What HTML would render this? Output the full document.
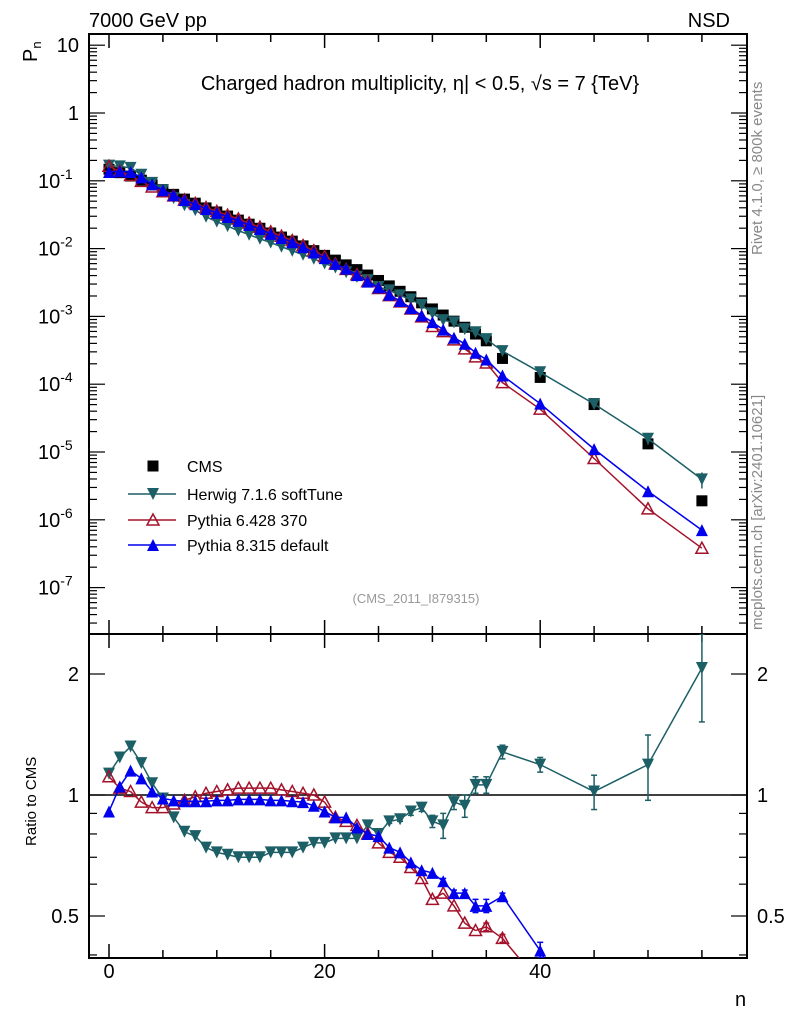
<!DOCTYPE html>
<html><head><meta charset="utf-8"><style>
html,body{margin:0;padding:0;background:#fff;width:786px;height:1024px;overflow:hidden;}
svg{display:block;font-family:"Liberation Sans",sans-serif;}
</style></head><body>
<svg id="c" width="786" height="1024" viewBox="0 0 786 1024" xmlns="http://www.w3.org/2000/svg">
<text x="89" y="27" font-size="20">7000 GeV pp</text>
<text x="730" y="27" font-size="20" text-anchor="end">NSD</text>
<text x="420" y="90" font-size="20" text-anchor="middle">Charged hadron multiplicity, η| &lt; 0.5, √s = 7 {TeV}</text>
<text x="416" y="603" font-size="13" fill="#999" text-anchor="middle">(CMS_2011_I879315)</text>
<text transform="translate(762,255) rotate(-90)" font-size="15" fill="#888">Rivet 4.1.0, ≥ 800k events</text>
<text transform="translate(762,630) rotate(-90)" font-size="15" fill="#888">mcplots.cern.ch [arXiv:2401.10621]</text>
<text transform="translate(37,62) rotate(-90)" font-size="20">P<tspan font-size="13" dy="4">n</tspan></text>
<text transform="translate(36,846) rotate(-90)" font-size="15">Ratio to CMS</text>
<text x="735" y="1006" font-size="20">n</text>
<g id="g"></g>
</svg>
<script>
const nVals=[0,1,2,3,4,5,6,7,8,9,10,11,12,13,14,15,16,17,18,19,20,21,22,23,24,25,26,27,28,29,30,31,32,33,34,35,36.5,40,45,50,55];
const cmsLog=[-0.83,-0.88,-0.93,-0.99,-1.06,-1.13,-1.2,-1.27,-1.33,-1.4,-1.46,-1.52,-1.58,-1.64,-1.7,-1.77,-1.83,-1.89,-1.96,-2.03,-2.1,-2.17,-2.24,-2.31,-2.39,-2.47,-2.55,-2.63,-2.71,-2.8,-2.89,-2.98,-3.07,-3.16,-3.26,-3.36,-3.62,-3.9,-4.3,-4.88,-5.72];
const herwigRatio=[1.13,1.24,1.32,1.2,1.07,0.98,0.88,0.81,0.79,0.74,0.72,0.71,0.7,0.7,0.7,0.72,0.72,0.72,0.74,0.76,0.76,0.78,0.78,0.78,0.84,0.8,0.86,0.87,0.91,0.93,0.86,0.84,0.96,0.94,1.06,1.06,1.28,1.19,1.02,1.19,2.07];
const herwigErr=[0,0,0,0,0,0,0,0,0,0,0,0,0,0,0,0,0,0,0,0,0,0,0,0,0,0.01,0.01,0.01,0.02,0.02,0.03,0.06,0.04,0.06,0.05,0.05,0.05,0.05,0.1,0.22,0.55];
const py6Ratio=[1.11,1.04,1.02,0.96,0.93,0.93,0.95,0.97,0.99,1.01,1.02,1.03,1.04,1.04,1.04,1.04,1.03,1.02,1.01,1.0,0.96,0.88,0.86,0.84,0.8,0.76,0.72,0.7,0.66,0.62,0.55,0.57,0.53,0.48,0.46,0.47,0.44,0.34,0.16,0.11,0.2];
const py6Err=[0,0,0,0,0,0,0,0,0,0,0,0,0,0,0,0,0,0,0,0,0,0,0,0,0,0,0,0,0,0,0,0,0,0,0,0.01,0.01,0,0,0,0];
const py8Ratio=[0.91,1.05,1.15,1.1,1.02,0.98,0.97,0.965,0.965,0.965,0.97,0.97,0.975,0.975,0.975,0.97,0.97,0.965,0.96,0.94,0.91,0.88,0.88,0.83,0.8,0.79,0.74,0.72,0.68,0.65,0.64,0.61,0.57,0.57,0.53,0.53,0.56,0.41,0.22,0.2,0.37];
const py8Err=[0,0,0,0,0,0,0,0,0,0,0,0,0,0,0,0,0,0,0,0,0,0,0,0,0,0,0,0,0,0,0,0.01,0.01,0.01,0.02,0.02,0.01,0.02,0,0,0];
const xTicks=[0,20,40];
const mainTickExp=[1,0,-1,-2,-3,-4,-5,-6,-7];
const ratioTicks=[2,1,0.5];

const NS="http://www.w3.org/2000/svg";
const g=document.getElementById('g');
const L=89,R=747,T=34,M=634,B=958;
const X=n=>109+(n)*10.78;
const YL=lg=>113-lg*67.8;
const YR=r=>795-Math.log2(r)*121;
function el(tag,attrs,parent){const e=document.createElementNS(NS,tag);for(const k in attrs)e.setAttribute(k,attrs[k]);(parent||g).appendChild(e);return e;}

const f1=el('rect',{x:L,y:T,width:R-L,height:M-T,fill:'none',stroke:'#000','stroke-width':2});


const f2=el('rect',{x:L,y:M,width:R-L,height:B-M,fill:'none',stroke:'#000','stroke-width':2});



for(let n=0;n<=55;n+=5){
  const x=X(n), len=(n%20===0)?14:8;
  [[B,-1],[M,1],[M,-1],[T,1]].forEach(([y,d])=>{
    el('line',{x1:x,x2:x,y1:y,y2:y+d*len,stroke:'#000','stroke-width':1.5});
  });
}
xTicks.forEach(v=>{
  const t=el('text',{x:X(v),y:978,'font-size':20,'text-anchor':'middle'});
  t.textContent=v;
  
  
});
for(let e=-8;e<=1;e++){
  for(let m=1;m<10;m++){
    const lg=e+Math.log10(m); const y=YL(lg);
    if(y<T||y>M)continue;
    const len=m===1?16:8;
    el('line',{x1:L,x2:L+len,y1:y,y2:y,stroke:'#000','stroke-width':1.2});
    el('line',{x1:R,x2:R-len,y1:y,y2:y,stroke:'#000','stroke-width':1.2});
  }
}
mainTickExp.forEach(e=>{
  const t=el('text',{x:79,y:YL(e)+7,'font-size':20,'text-anchor':'end'});
  if(e===1)t.textContent='10';else if(e===0)t.textContent='1';
  else{t.textContent='10';const s=el('tspan',{dy:-9,'font-size':14},t);s.textContent=String(e);t.setAttribute('text-anchor','start');t.setAttribute('x',38);}
  
  
});
[0.4,0.5,0.6,0.7,0.8,0.9,1,2].forEach(r=>{
  const y=YR(r), len=(r===1||r===2||r===0.5)?16:8;
  el('line',{x1:L,x2:L+len,y1:y,y2:y,stroke:'#000','stroke-width':1.2});
  el('line',{x1:R,x2:R-len,y1:y,y2:y,stroke:'#000','stroke-width':1.2});
});
ratioTicks.forEach(r=>{
  const t=el('text',{x:79,y:YR(r)+7,'font-size':20,'text-anchor':'end'});t.textContent=r;
  
  
  const t2=el('text',{x:757,y:YR(r)+7,'font-size':20});t2.textContent=r;
  
  
});
const ref=el('line',{x1:L,x2:R,y1:YR(1),y2:YR(1),stroke:'#000','stroke-width':1.5});



const defs=el('defs',{});
const c1=el('clipPath',{id:'cm'},defs);el('rect',{x:L,y:T,width:R-L,height:M-T},c1);
const c2=el('clipPath',{id:'cr'},defs);el('rect',{x:L,y:M,width:R-L,height:B-M},c2);

function marker(parent,type,x,y,col){
  const s=6;
  if(type==='sq')return el('rect',{x:x-5.5,y:y-5.5,width:11,height:11,fill:'#000'},parent);
  if(type==='down')return el('polygon',{points:`${x-s},${y-s} ${x+s},${y-s} ${x},${y+s}`,fill:col},parent);
  if(type==='up')return el('polygon',{points:`${x-s},${y+s} ${x+s},${y+s} ${x},${y-s}`,fill:col},parent);
  if(type==='upo')return el('polygon',{points:`${x-s},${y+s-1} ${x+s},${y+s-1} ${x},${y-s}`,fill:'none',stroke:col,'stroke-width':1.5},parent);
}
// clip polyline points to y range [ymin,ymax] -> list of segments
function clipPts(pts,ymin,ymax){
  const segs=[];
  for(let i=0;i<pts.length-1;i++){
    let [x1,y1]=pts[i],[x2,y2]=pts[i+1];
    let t0=0,t1=1;const dy=y2-y1;
    if(dy!==0){
      const ta=(ymin-y1)/dy,tb=(ymax-y1)/dy;
      t0=Math.max(t0,Math.min(ta,tb));t1=Math.min(t1,Math.max(ta,tb));
    }else if(y1<ymin||y1>ymax)continue;
    if(t0>=t1)continue;
    segs.push([x1+(x2-x1)*t0,y1+dy*t0,x1+(x2-x1)*t1,y1+dy*t1]);
  }
  return segs;
}
const series=[
  {name:'herwig',ratio:herwigRatio,err:herwigErr,col:'#1d5f66',m:'down'},
  {name:'pythia6',ratio:py6Ratio,err:py6Err,col:'#a3122a',m:'upo'},
  {name:'pythia8',ratio:py8Ratio,err:py8Err,col:'#0000ee',m:'up'}
];
const gm=el('g',{'clip-path':'url(#cm)'});
const gr=el('g',{'clip-path':'url(#cr)'});
nVals.forEach((n,i)=>{
  const m=marker(gm,'sq',X(n),YL(cmsLog[i]));
  
  
});
series.forEach(s=>{
  const pm=nVals.map((n,i)=>[X(n),YL(cmsLog[i]+Math.log10(s.ratio[i]))]);
  const pr=nVals.map((n,i)=>[X(n),YR(s.ratio[i])]);
  const l1=el('polyline',{points:pm.map(p=>p.join(',')).join(' '),fill:'none',stroke:s.col,'stroke-width':1.5},gm);
  
  
  const d=clipPts(pr,M-2,B+2).map(q=>`M${q[0]},${q[1]}L${q[2]},${q[3]}`).join('');
  const l2=el('path',{d:d,fill:'none',stroke:s.col,'stroke-width':1.5},gr);
  
  
  nVals.forEach((n,i)=>{
    const e=s.err[i];
    const r=s.ratio[i];
    const inR=pr[i][1]<B+8&&pr[i][1]>M-8;
    if(e>0&&inR){
      const y1=Math.max(YR(r+e),M),y2=Math.min(YR(Math.max(r-e,0.05)),B);
      el('line',{x1:X(n),x2:X(n),y1:y1,y2:y2,stroke:s.col,'stroke-width':1.5},gr);
      el('line',{x1:X(n)-3,x2:X(n)+3,y1:y1,y2:y1,stroke:s.col,'stroke-width':1.5},gr);
      el('line',{x1:X(n)-3,x2:X(n)+3,y1:y2,y2:y2,stroke:s.col,'stroke-width':1.5},gr);
    }
    if(e>0){
      const ym1=YL(cmsLog[i]+Math.log10(r+e)),ym2=YL(cmsLog[i]+Math.log10(Math.max(r-e,0.05)));
      el('line',{x1:X(n),x2:X(n),y1:ym1,y2:ym2,stroke:s.col,'stroke-width':1.5},gm);
    }
    const a=marker(gm,s.m,pm[i][0],pm[i][1],s.col);
    
    
    if(inR){
      const b=marker(gr,s.m,pr[i][0],pr[i][1],s.col);
      
      
    }
  });
});
const leg=[['CMS','sq','#000',466],['Herwig 7.1.6 softTune','down','#1d5f66',494],['Pythia 6.428 370','upo','#a3122a',520],['Pythia 8.315 default','up','#0000ee',545]];
leg.forEach(([lab,m,col,y])=>{
  const lg=el('g',{});
  
  
  if(m!=='sq')el('line',{x1:128,x2:176,y1:y,y2:y,stroke:col,'stroke-width':1.5},lg);
  marker(lg,m,153,y,col);
  const t=el('text',{x:187,y:y+6,'font-size':16},lg);t.textContent=lab;
});
</script>
</body></html>
